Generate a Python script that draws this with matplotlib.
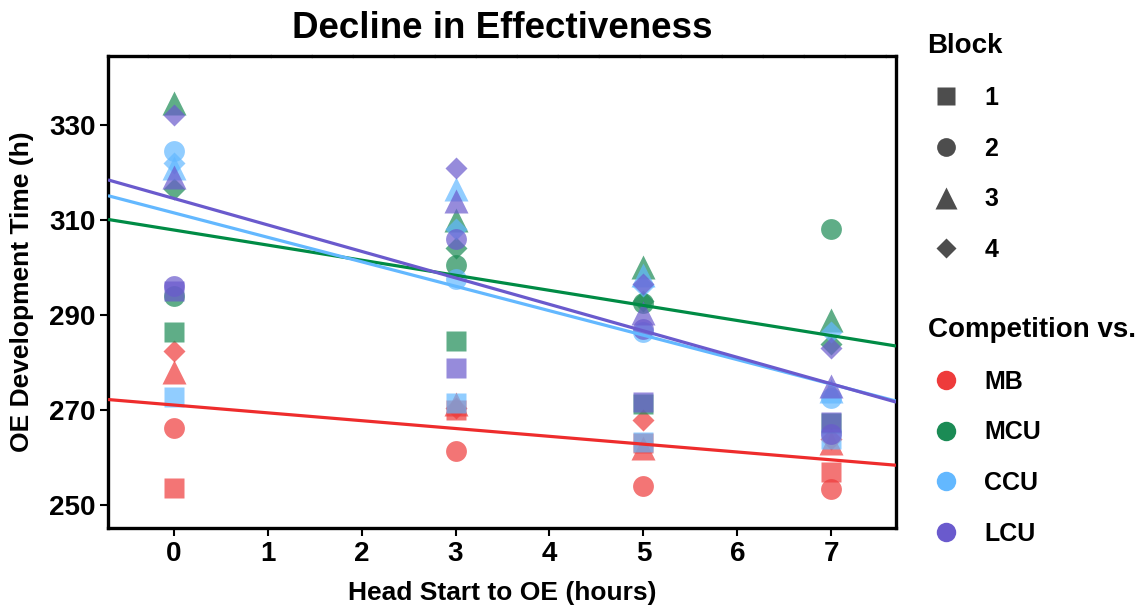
import matplotlib
matplotlib.use("Agg")
import matplotlib.pyplot as plt
from matplotlib.lines import Line2D
import numpy as np

plt.rcParams['font.family'] = ['Liberation Sans', 'DejaVu Sans']
plt.rcParams['font.weight'] = 'bold'

hours = [0, 3, 5, 7]
blocks = ["1", "2", "3", "4"]
competitors = ["MB", "MCU", "CCU", "LCU"]

# values per block (1..4), one value per hour
MB = [[253.7, 270.0, 263.0, 257.0],
      [266.3, 261.5, 254.0, 253.5],
      [278.0, 271.3, 262.0, 263.0],
      [282.5, 270.5, 268.0, 264.0]]
MCU = [[286.5, 284.6, 271.3, 267.3],
       [294.0, 300.5, 292.5, 308.0],
       [334.5, 310.0, 300.0, 289.0],
       [316.5, 304.0, 293.0, 284.0]]
CCU = [[272.8, 271.5, 263.2, 264.0],
       [324.5, 297.5, 286.5, 272.5],
       [321.0, 316.5, 298.5, 274.0],
       [322.0, 308.0, 296.0, 286.5]]
LCU = [[295.0, 278.8, 271.8, 267.5],
       [296.0, 306.0, 287.0, 265.0],
       [319.0, 314.0, 290.5, 275.0],
       [332.0, 321.0, 296.5, 283.0]]

data = {"MB": MB, "MCU": MCU, "CCU": CCU, "LCU": LCU}
point_colors = {"MB": "#EE3B3B", "MCU": "#1B8B55", "CCU": "#63B8FF", "LCU": "#6A5ACD"}
line_colors = {"MB": "#EE2C2C", "MCU": "#008B45", "CCU": "#63B8FF", "LCU": "#6A5ACD"}
markers = ["s", "o", "^", "D"]
msizes = [14.5, 15, 17, 11.5]

fig = plt.figure(figsize=(11.47, 6.10), dpi=100)
ax = fig.add_axes([0.0942, 0.1344, 0.687, 0.774])

xlim = (-0.70, 7.69)
for comp in competitors:
    for bi, vals in enumerate(data[comp]):
        ax.plot(hours, vals, linestyle="none", marker=markers[bi], ms=msizes[bi],
                mfc=point_colors[comp], mec="none", alpha=0.7, zorder=2)

xx = np.array(xlim)
for comp in competitors:
    ys_all = np.concatenate([np.array(v, dtype=float) for v in data[comp]])
    xs_fit = np.tile(np.array(hours, dtype=float), 4)
    k, b = np.polyfit(xs_fit, ys_all, 1)
    ax.plot(xx, k * xx + b, color=line_colors[comp], lw=2.3, zorder=3,
            solid_capstyle="butt")

ax.set_xlim(*xlim)
ax.set_ylim(245.2, 344.5)
ax.set_xticks(range(0, 8))
ax.set_yticks([250, 270, 290, 310, 330])
ax.tick_params(axis="both", direction="out", length=6, width=1.5, labelsize=20,
               colors="black", pad=3)
for lab in ax.get_xticklabels() + ax.get_yticklabels():
    lab.set_fontweight("bold")

for side in ["left", "bottom", "right"]:
    ax.spines[side].set_linewidth(2.4)
    ax.spines[side].set_color("black")
ax.spines["top"].set_linewidth(2.4)
ax.spines["top"].set_linestyle((0, (11.5, 0.8)))

ax.set_xlabel("Head Start to OE (hours)", fontsize=19, fontweight="bold")
ax.set_ylabel("OE Development Time (h)", fontsize=19, fontweight="bold")
ax.xaxis.set_label_coords(0.5, -0.112)
ax.yaxis.set_label_coords(-0.094, 0.5)
ax.set_title("Decline in Effectiveness", fontsize=26.5, fontweight="bold", pad=13)

shape_handles = [Line2D([], [], linestyle="none", marker=m, ms=s * 0.9, mfc="#4D4D4D",
                        mec="none") for m, s in zip(markers, msizes)]
leg1 = fig.legend(shape_handles, blocks, title="Block", loc="upper left",
                  bbox_to_anchor=(0.8, 0.962), frameon=False, fontsize=18,
                  title_fontsize=20, labelspacing=1.07, handlelength=1.5,
                  handletextpad=0.77, borderaxespad=0, alignment="left")
leg1.get_title().set_fontweight("bold")

col_handles = [Line2D([], [], linestyle="none", marker="o", ms=14,
                      mfc=point_colors[c], mec="none") for c in competitors]
leg2 = fig.legend(col_handles, competitors, title="Competition vs.", loc="upper left",
                  bbox_to_anchor=(0.8, 0.497), frameon=False, fontsize=18,
                  title_fontsize=20, labelspacing=1.07, handlelength=1.5,
                  handletextpad=0.77, borderaxespad=0, alignment="left")
leg2.get_title().set_fontweight("bold")

fig.savefig("out.png", dpi=100)
